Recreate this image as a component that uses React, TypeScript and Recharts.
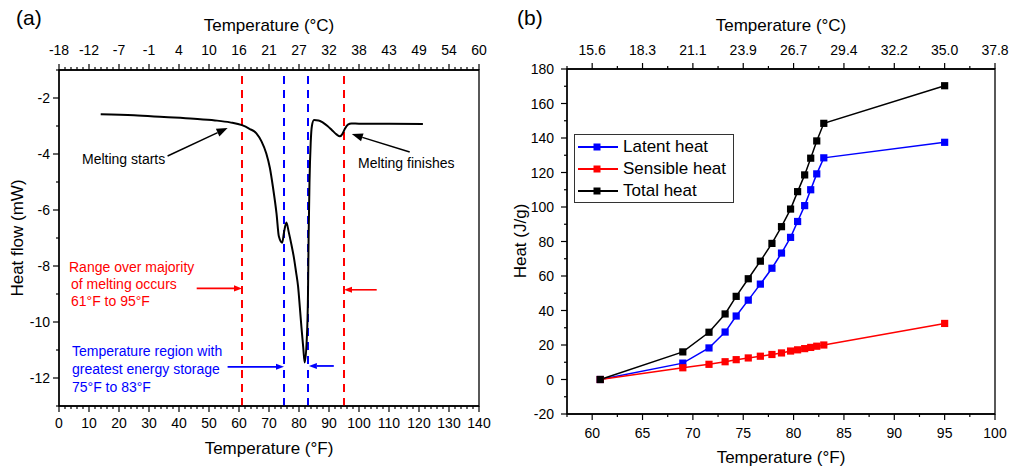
import React from 'react';
import { LineChart, Line, XAxis, YAxis, ReferenceLine, ReferenceArea } from 'recharts';

const FONT = '"Liberation Sans", Arial, Helvetica, sans-serif';
const RED = '#ff0000';
const BLUE = '#0000ff';

// ---- (a) DSC melting curve ----
const dscTempF = [13.9, 25, 35, 45, 52, 57, 61, 63.5, 65.8, 67.5, 69.1, 70.3, 71.3, 72.5, 73.3, 74.4, 75.0, 75.8, 76.6, 77.5, 78.3, 79.0, 79.7, 80.3, 80.8, 81.4, 81.9, 82.6, 83.0, 83.2, 83.5, 83.9, 84.3, 85.0, 86.5, 88, 89.5, 91, 92.5, 93.6, 94.5, 95.3, 96.3, 97.5, 100, 110, 121.3];
const dscHeatFlow = [-2.58, -2.62, -2.68, -2.74, -2.8, -2.87, -2.97, -3.1, -3.26, -3.55, -3.98, -4.5, -5.17, -6.12, -6.95, -7.17, -6.8, -6.45, -6.8, -7.25, -7.7, -8.2, -8.74, -9.5, -10.17, -10.9, -11.45, -10.6, -9.0, -7.0, -5.0, -3.6, -3.0, -2.79, -2.8, -2.88, -3.0, -3.15, -3.3, -3.37, -3.28, -3.1, -2.95, -2.91, -2.92, -2.92, -2.93];
const meltRangeF = [61, 95];
const storageRangeF = [75, 83];

const aMajorF = [0, 10, 20, 30, 40, 50, 60, 70, 80, 90, 100, 110, 120, 130, 140];
const aTopLabelsC = ['-18', '-12', '-7', '-1', '4', '10', '16', '21', '27', '32', '38', '43', '49', '54', '60'];
const aMajorY = [-2, -4, -6, -8, -10, -12];

// arrows in data units [x, y]
const blackArrows = [
  { from: [36.2, -4.07], to: [56.2, -3.07] },
  { from: [116.9, -3.93], to: [97.6, -3.29] },
];
const redArrows = [
  { from: [45.9, -8.8], to: [61, -8.8] },
  { from: [105.9, -8.85], to: [95, -8.85] },
];
const blueArrows = [
  { from: [56.2, -11.6], to: [75, -11.6] },
  { from: [91.6, -11.57], to: [83.3, -11.57] },
];

// ---- (b) heat storage ----
const heatTempF = [60.8, 69, 71.6, 73.2, 74.3, 75.5, 76.7, 77.85, 78.8, 79.7, 80.4, 81.1, 81.7, 82.3, 83, 95];
const latentHeat = [0, 9.5, 18.3, 27.5, 36.8, 46, 55.3, 64.5, 73.3, 82.4, 91.6, 100.8, 110, 119.2, 128.5, 137.5];
const sensibleHeat = [0, 6.8, 8.8, 10.3, 11.5, 12.5, 13.5, 14.5, 15.4, 16.5, 17.2, 17.9, 18.6, 19.3, 20, 32.5];
const totalHeat = [0, 16, 27.4, 38, 48.2, 58.4, 68.6, 78.9, 88.6, 98.8, 108.9, 118.6, 128.3, 138.3, 148.5, 170.3];

const bMajorF = [60, 65, 70, 75, 80, 85, 90, 95, 100];
const bTopLabelsC = ['15.6', '18.3', '21.1', '23.9', '26.7', '29.4', '32.2', '35.0', '37.8'];
const bMajorY = [-20, 0, 20, 40, 60, 80, 100, 120, 140, 160, 180];

const heatSeries = [
  { key: 'latent', name: 'Latent heat', color: BLUE },
  { key: 'sensible', name: 'Sensible heat', color: RED },
  { key: 'total', name: 'Total heat', color: '#000000' },
];

const dscData = dscTempF.map((f, i) => ({ f, hf: dscHeatFlow[i] }));
const heatData = heatTempF.map((f, i) => ({
  f,
  latent: latentHeat[i],
  sensible: sensibleHeat[i],
  total: totalHeat[i],
}));

const range = (a: number, b: number, step: number) => {
  const out: number[] = [];
  for (let v = a; v <= b + 1e-9; v += step) out.push(Math.round(v * 100) / 100);
  return out;
};

const aTicksX = range(0, 140, 2);
const aTicksY = range(-13, -1, 1);
const bTicksX = range(57.5, 100, 2.5);
const bTicksY = range(-20, 180, 10);

const labelMap = (majors: number[], labels: string[] | null) => {
  const m = new Map<string, string>();
  majors.forEach((v, i) => m.set(String(v), labels ? labels[i] : String(v)));
  return m;
};

// tick renderer: draws tick mark + label for major values
const makeTick = (side: 'bottom' | 'top' | 'left', majors: number[], labels: string[] | null, gap: number) => {
  const lm = labelMap(majors, labels);
  return (props: any) => {
    const { x, y, payload } = props;
    const text = lm.get(String(Math.round(Number(payload.value) * 100) / 100)) ?? null;
    const len = text !== null ? 6 : 3;
    const common = { fontSize: 14, fontFamily: FONT, fill: '#000', stroke: 'none' };
    if (side === 'bottom') {
      return (
        <g>
          <line x1={x} y1={y} x2={x} y2={y + len} stroke="#000" strokeWidth={1.2} />
          {text !== null && <text x={x} y={y + gap + 5} textAnchor="middle" {...common}>{text}</text>}
        </g>
      );
    }
    if (side === 'top') {
      return (
        <g>
          <line x1={x} y1={y} x2={x} y2={y - len} stroke="#000" strokeWidth={1.2} />
          {text !== null && <text x={x} y={y - gap + 5} textAnchor="middle" {...common}>{text}</text>}
        </g>
      );
    }
    return (
      <g>
        <line x1={x} y1={y} x2={x - len} y2={y} stroke="#000" strokeWidth={1.2} />
        {text !== null && <text x={x - gap} y={y + 5} textAnchor="end" {...common}>{text}</text>}
      </g>
    );
  };
};

const arrowShape = (color: string, head: number, width: number) => (p: any) => {
  const { x1, y1, x2, y2 } = p;
  const ang = Math.atan2(y2 - y1, x2 - x1);
  const bx = x2 - head * Math.cos(ang);
  const by = y2 - head * Math.sin(ang);
  const px = -Math.sin(ang) * head * 0.38;
  const py = Math.cos(ang) * head * 0.38;
  return (
    <g>
      <line x1={x1} y1={y1} x2={bx} y2={by} stroke={color} strokeWidth={width} />
      <polygon points={`${x2},${y2} ${bx + px},${by + py} ${bx - px},${by - py}`} fill={color} />
    </g>
  );
};

const squareDot = (color: string) => (p: any) => (
  <rect key={`${color}${p.index}`} x={p.cx - 3.6} y={p.cy - 3.6} width={7.2} height={7.2} fill={color} />
);

const Txt: React.FC<{ x: number; y: number; size?: number; color?: string; center?: boolean; children: React.ReactNode }> = ({ x, y, size = 14, color = '#000', center, children }) => (
  <div
    style={{
      position: 'absolute',
      left: x,
      top: y - size * 0.6,
      fontSize: size,
      lineHeight: `${size * 1.2}px`,
      color,
      fontFamily: FONT,
      whiteSpace: 'nowrap',
      transform: center ? 'translateX(-50%)' : undefined,
    }}
  >
    {children}
  </div>
);

const axisLine = { stroke: '#000', strokeWidth: 1.3 };

export default function App() {
  return (
    <div style={{ position: 'absolute', left: 0, top: 0, width: 1009, height: 469, background: '#fff', overflow: 'hidden' }}>
      {/* panel (a) */}
      <div style={{ position: 'absolute', left: 0, top: 0 }}>
        <LineChart width={500} height={469} data={dscData} margin={{ top: 0, right: 21, bottom: 0, left: 0 }}>
          <XAxis xAxisId="f" dataKey="f" type="number" domain={[0, 140]} allowDataOverflow ticks={aTicksX} interval={0}
            height={63} tickSize={0} tickMargin={0} tickLine={false} axisLine={axisLine} tick={makeTick('bottom', aMajorF, null, 17)} />
          <XAxis xAxisId="c" dataKey="f" orientation="top" type="number" domain={[0, 140]} allowDataOverflow ticks={aTicksX} interval={0}
            height={70} tickSize={0} tickMargin={0} tickLine={false} axisLine={axisLine} tick={makeTick('top', aMajorF, aTopLabelsC, 20)} />
          <YAxis type="number" domain={[-13, -1]} allowDataOverflow ticks={aTicksY} interval={0} width={59}
            tickSize={0} tickMargin={0} tickLine={false} axisLine={axisLine} tick={makeTick('left', aMajorY, null, 9)} />
          <ReferenceArea xAxisId="f" x1={0} x2={140} y1={-13} y2={-1} fill="none" stroke="#000" strokeWidth={1.3} />
          {meltRangeF.map((f) => (
            <ReferenceLine key={`m${f}`} xAxisId="f" x={f} stroke={RED} strokeWidth={2} strokeDasharray="8 6" />
          ))}
          {storageRangeF.map((f) => (
            <ReferenceLine key={`s${f}`} xAxisId="f" x={f} stroke={BLUE} strokeWidth={2} strokeDasharray="8 6" />
          ))}
          <Line xAxisId="f" type="monotone" dataKey="hf" stroke="#000" strokeWidth={2} dot={false} isAnimationActive={false} />
          {blackArrows.map((a, i) => (
            <ReferenceLine key={`ba${i}`} xAxisId="f" segment={[{ x: a.from[0], y: a.from[1] }, { x: a.to[0], y: a.to[1] }]}
              shape={arrowShape('#000', 11, 1.5)} />
          ))}
          {redArrows.map((a, i) => (
            <ReferenceLine key={`ra${i}`} xAxisId="f" segment={[{ x: a.from[0], y: a.from[1] }, { x: a.to[0], y: a.to[1] }]}
              shape={arrowShape(RED, 8, 1.6)} />
          ))}
          {blueArrows.map((a, i) => (
            <ReferenceLine key={`bla${i}`} xAxisId="f" segment={[{ x: a.from[0], y: a.from[1] }, { x: a.to[0], y: a.to[1] }]}
              shape={arrowShape(BLUE, 8, 1.8)} />
          ))}
        </LineChart>
      </div>

      <Txt x={16} y={18} size={21}>(a)</Txt>
      <Txt x={269} y={26} size={17} center>Temperature (°C)</Txt>
      <Txt x={269} y={449} size={17} center>Temperature (°F)</Txt>
      <div style={{ position: 'absolute', left: 18, top: 238, transform: 'translate(-50%, -50%) rotate(-90deg)', fontSize: 17, fontFamily: FONT, whiteSpace: 'nowrap' }}>
        Heat flow (mW)
      </div>
      <Txt x={82} y={159}>Melting starts</Txt>
      <Txt x={358} y={163}>Melting finishes</Txt>
      <Txt x={69} y={267} color={RED}>Range over majority</Txt>
      <Txt x={71} y={284} color={RED}>of melting occurs</Txt>
      <Txt x={71} y={301} color={RED}>61°F to 95°F</Txt>
      <Txt x={72} y={351} color={BLUE}>Temperature region with</Txt>
      <Txt x={72} y={369} color={BLUE}>greatest energy storage</Txt>
      <Txt x={72} y={387} color={BLUE}>75°F to 83°F</Txt>

      {/* panel (b) */}
      <div style={{ position: 'absolute', left: 500, top: 0 }}>
        <LineChart width={509} height={469} data={heatData} margin={{ top: 0, right: 14, bottom: 0, left: 0 }}>
          <XAxis xAxisId="f" dataKey="f" type="number" domain={[57.5, 100]} allowDataOverflow ticks={bTicksX} interval={0}
            height={55} tickSize={0} tickMargin={0} tickLine={false} axisLine={axisLine} tick={makeTick('bottom', bMajorF, null, 19)} />
          <XAxis xAxisId="c" dataKey="f" orientation="top" type="number" domain={[57.5, 100]} allowDataOverflow ticks={bTicksX} interval={0}
            height={69} tickSize={0} tickMargin={0} tickLine={false} axisLine={axisLine} tick={makeTick('top', bMajorF, bTopLabelsC, 19)} />
          <YAxis type="number" domain={[-20, 180]} allowDataOverflow ticks={bTicksY} interval={0} width={67}
            tickSize={0} tickMargin={0} tickLine={false} axisLine={axisLine} tick={makeTick('left', bMajorY, null, 13)} />
          <ReferenceArea xAxisId="f" x1={57.5} x2={100} y1={-20} y2={180} fill="none" stroke="#000" strokeWidth={1.3} />
          {heatSeries.map((s) => (
            <Line key={s.key} xAxisId="f" type="linear" dataKey={s.key} stroke={s.color} strokeWidth={1.5}
              dot={squareDot(s.color)} activeDot={false} isAnimationActive={false} />
          ))}
        </LineChart>
      </div>

      <Txt x={517} y={18} size={21}>(b)</Txt>
      <Txt x={781} y={26} size={17} center>Temperature (°C)</Txt>
      <Txt x={781} y={458} size={17} center>Temperature (°F)</Txt>
      <div style={{ position: 'absolute', left: 521, top: 241, transform: 'translate(-50%, -50%) rotate(-90deg)', fontSize: 17, fontFamily: FONT, whiteSpace: 'nowrap' }}>
        Heat (J/g)
      </div>

      {/* legend */}
      <div style={{ position: 'absolute', left: 574, top: 134, width: 158, height: 67, border: '1px solid #333', background: '#fff' }}>
        {heatSeries.map((s, i) => (
          <div key={s.key} style={{ position: 'absolute', left: 0, top: 1 + i * 22, height: 22, width: 158 }}>
            <svg width={46} height={22} style={{ position: 'absolute', left: 0, top: 0 }}>
              <line x1={3} y1={11} x2={43} y2={11} stroke={s.color} strokeWidth={1.8} />
              <rect x={18.5} y={7.5} width={7} height={7} fill={s.color} />
            </svg>
            <span style={{ position: 'absolute', left: 48, top: 0, lineHeight: '22px', fontSize: 17, fontFamily: FONT, whiteSpace: 'nowrap' }}>
              {s.name}
            </span>
          </div>
        ))}
      </div>
    </div>
  );
}
